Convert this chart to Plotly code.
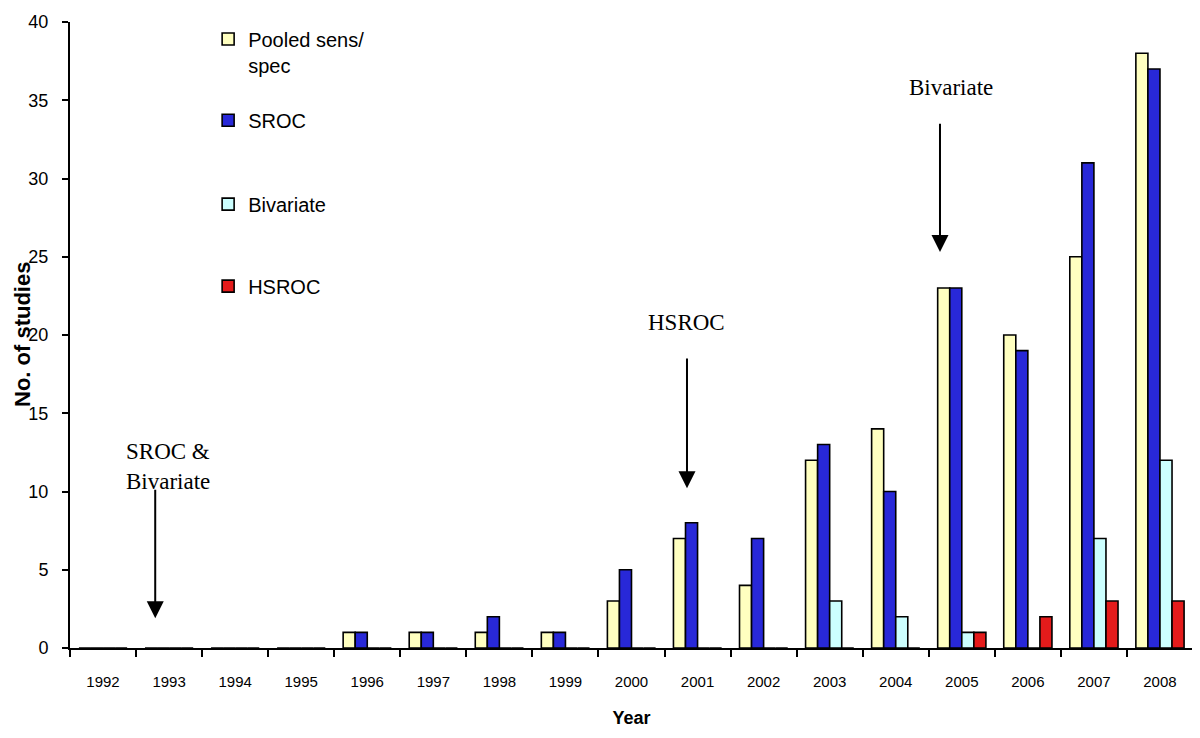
import plotly.graph_objects as go

years = ["1992", "1993", "1994", "1995", "1996", "1997", "1998", "1999", "2000",
         "2001", "2002", "2003", "2004", "2005", "2006", "2007", "2008"]
pooled = [0, 0, 0, 0, 1, 1, 1, 1, 3, 7, 4, 12, 14, 23, 20, 25, 38]
sroc = [0, 0, 0, 0, 1, 1, 2, 1, 5, 8, 7, 13, 10, 23, 19, 31, 37]
bivariate = [0, 0, 0, 0, 0, 0, 0, 0, 0, 0, 0, 3, 2, 1, 0, 7, 12]
hsroc = [0, 0, 0, 0, 0, 0, 0, 0, 0, 0, 0, 0, 0, 1, 2, 3, 3]

series_names = ["Pooled sens/<br>spec", "SROC", "Bivariate", "HSROC"]
series_values = [pooled, sroc, bivariate, hsroc]
series_colors = ["#FFFFC0", "#2828D8", "#CCFFFF", "#E41B1B"]
legend_ids = ["legend", "legend2", "legend3", "legend4"]
legend_y = [0.952, 0.843, 0.709, 0.578]

y_title = "<b>No. of studies</b>"

# annotation texts with (x index, y) positions; arrows: (x index, tail y, tip y)
note_texts = ["SROC &<br>Bivariate", "HSROC", "Bivariate"]
note_pos = [(0.31, 11.6, "left"), (8.83, 20.8, "center"), (12.84, 35.8, "center")]
arrows = [(0.79, 10.2, 1.9), (8.84, 18.6, 10.2), (12.67, 33.6, 25.3)]

fig = go.Figure()
for name, vals, col, lid in zip(series_names, series_values, series_colors, legend_ids):
    fig.add_trace(go.Bar(
        x=years, y=vals, name=name, legend=lid, showlegend=True,
        marker=dict(color=col, line=dict(color="black", width=1.6)),
    ))

annotations = []
for txt, (x, y, anc) in zip(note_texts, note_pos):
    annotations.append(dict(
        x=x, y=y, xref="x", yref="y", text=txt, showarrow=False,
        xanchor=anc, align=anc, yanchor="middle",
        font=dict(family="Liberation Serif", size=23, color="black"),
    ))
for (x, ytail, ytip) in arrows:
    annotations.append(dict(
        x=x, y=ytip, xref="x", yref="y", ax=x, ay=ytail, axref="x", ayref="y",
        text="", showarrow=True, arrowhead=2, arrowsize=1.7, arrowwidth=2,
        arrowcolor="black", standoff=0,
    ))
# y-axis title as a rotated annotation
annotations.append(dict(
    x=0, y=0.5, xref="paper", yref="paper", xshift=-48, text=y_title,
    textangle=-90, showarrow=False, xanchor="center", yanchor="middle",
    font=dict(family="Liberation Sans", size=22, color="black"),
))

legend_style = dict(
    x=0.123, xanchor="left", yanchor="middle",
    font=dict(family="Liberation Sans", size=20, color="black"),
    valign="top", itemwidth=30, bgcolor="rgba(0,0,0,0)", visible=True,
)
layout_legends = {lid: dict(legend_style, y=ly) for lid, ly in zip(legend_ids, legend_y)}

fig.update_layout(
    width=1200, height=738,
    margin=dict(l=62, r=15, t=14, b=98, autoexpand=False),
    paper_bgcolor="white", plot_bgcolor="white",
    showlegend=True,
    barmode="group", bargap=0.27, bargroupgap=0,
    font=dict(family="Liberation Sans", color="black"),
    annotations=annotations,
    xaxis=dict(
        type="category", showline=True, linecolor="black", linewidth=2,
        ticks="outside", tickson="boundaries", ticklen=7, tickwidth=1.5, tickcolor="black",
        tickfont=dict(size=15), ticklabelstandoff=19, automargin=False,
        title=dict(text="<b>Year</b>", font=dict(size=18), standoff=22),
        showgrid=False, zeroline=False,
    ),
    yaxis=dict(
        range=[0, 40], dtick=5, showline=True, linecolor="black", linewidth=2,
        ticks="outside", ticklen=6, tickwidth=1.5, tickcolor="black",
        tickfont=dict(size=18), ticklabelstandoff=10, automargin=False,
        showgrid=False, zeroline=False,
    ),
    **layout_legends,
)

fig.write_html("out.html")
